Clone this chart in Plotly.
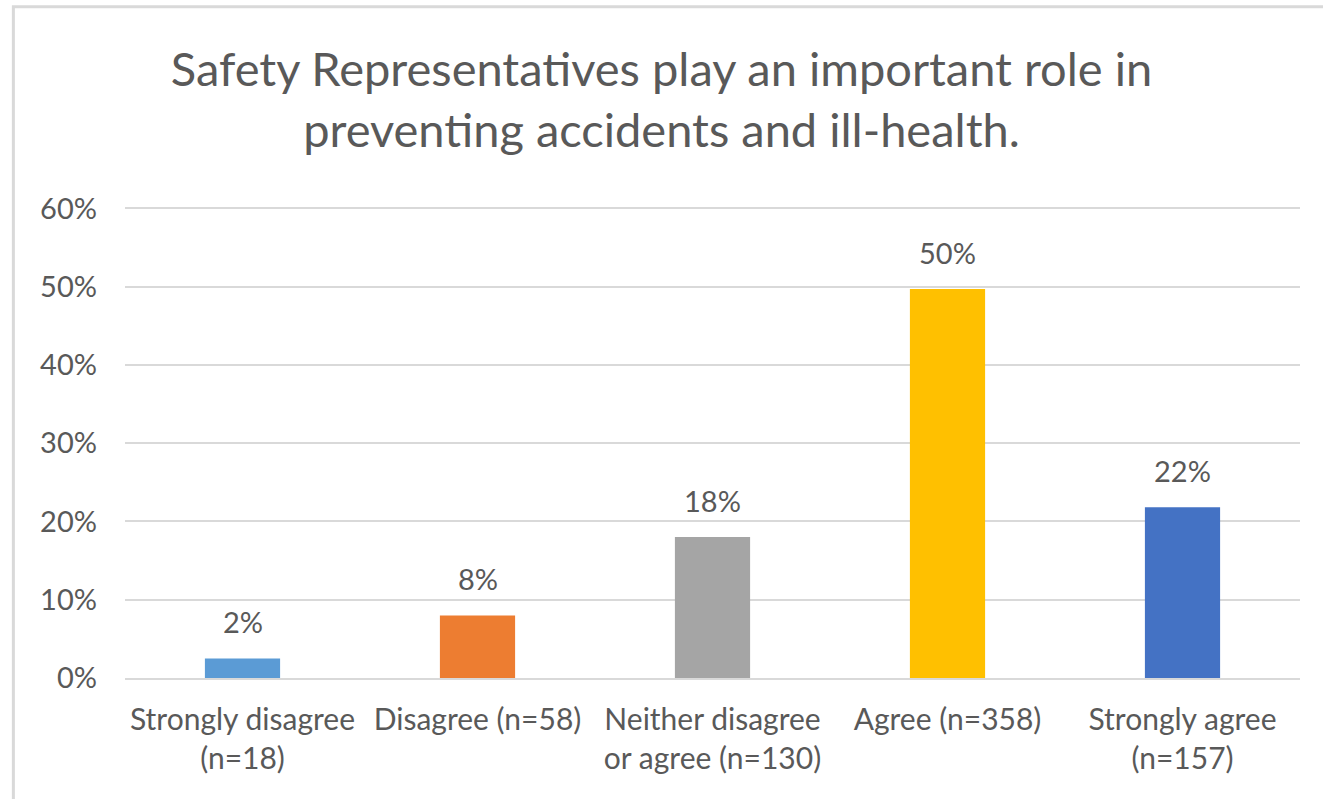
import plotly.graph_objects as go

categories = [
    "Strongly disagree<br>(n=18)",
    "Disagree (n=58)",
    "Neither disagree<br>or agree (n=130)",
    "Agree (n=358)",
    "Strongly agree<br>(n=157)",
]
shares = [2.5, 8.0, 18.0, 49.7, 21.8]
labels = ["2%", "8%", "18%", "50%", "22%"]
colors = ["#5b9bd5", "#ed7d31", "#a5a5a5", "#ffc000", "#4472c4"]
y_ticks = [0, 10, 20, 30, 40, 50, 60]
y_tick_text = ["0%", "10%", "20%", "30%", "40%", "50%", "60%"]

font_family = "Lato, 'Open Sans', sans-serif"
text_color = "#595959"

fig = go.Figure(go.Bar(
    x=categories,
    y=shares,
    marker_color=colors,
    marker_line_width=0,
    hoverinfo="skip",
))

# value labels sit a bit higher above the bars than plotly's "outside" text
for cat, val, lab in zip(categories, shares, labels):
    fig.add_annotation(
        x=cat, y=val, text=lab, showarrow=False,
        yanchor="bottom", yshift=17,
        font=dict(size=29, color=text_color),
    )

fig.update_layout(
    width=1323,
    height=799,
    paper_bgcolor="white",
    plot_bgcolor="white",
    font=dict(family=font_family, color=text_color),
    title=dict(
        text="Safety Representatives play an important role in<br>preventing accidents and ill-health.",
        x=0.5,
        xanchor="center",
        y=0.892,
        yanchor="middle",
        font=dict(size=47, color=text_color),
    ),
    margin=dict(l=125, r=23, t=206, b=121),
    bargap=0.68,
    showlegend=False,
    xaxis=dict(
        showline=True,
        linecolor="#d9d9d9",
        linewidth=2,
        ticks="",
        ticklabelstandoff=14,
        tickfont=dict(size=30, color=text_color),
    ),
    yaxis=dict(
        range=[0, 60.3],
        tickvals=y_ticks,
        ticktext=y_tick_text,
        showgrid=True,
        gridcolor="#d9d9d9",
        gridwidth=1.5,
        zeroline=False,
        ticks="",
        ticklabelstandoff=27,
        tickfont=dict(size=29, color=text_color),
    ),
)

fig.add_shape(
    type="rect", xref="paper", yref="paper",
    x0=-0.095, x1=1.03, y0=-0.3, y1=1.422,
    line=dict(color="#d9d9d9", width=3),
    fillcolor="rgba(0,0,0,0)",
    layer="below",
)

fig.write_html(
    "out.html",
    config={"displayModeBar": False},
    post_script="document.body.style.margin='0';",
)
